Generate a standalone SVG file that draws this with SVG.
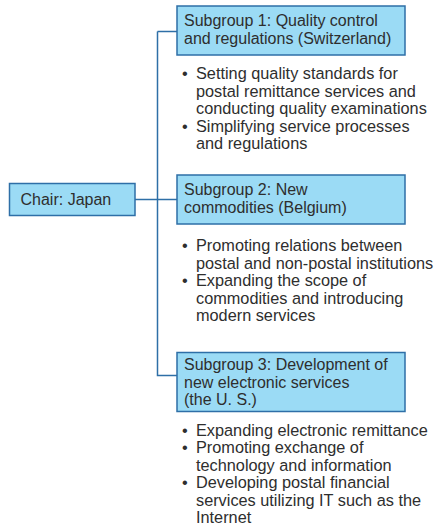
<svg xmlns="http://www.w3.org/2000/svg" width="434" height="529" viewBox="0 0 434 529">
  <style>
    .box { fill: #9bdbf5; stroke: #2e6fa7; stroke-width: 1.5; }
    .link { fill: none; stroke: #2e6fa7; stroke-width: 1.5; }
    text { font-family: "Liberation Sans", Arial, Helvetica, sans-serif; font-size: 16px; fill: #2e2e2e; }
    .items { font-size: 16.3px; }
  </style>
  <rect width="434" height="529" fill="#ffffff"/>

  <!-- connectors -->
  <g id="connectors">
    <path class="link" d="M157.5 31.5 H177 M157.5 31.5 V375.5 H177"/>
    <path class="link" d="M135 199.5 H177"/>
  </g>

  <!-- chair -->
  <g id="chair">
    <rect class="box" x="9.5" y="183.5" width="125.5" height="32"/>
    <text x="20.5" y="204.5">Chair: Japan</text>
  </g>

  <!-- subgroup 1 -->
  <g id="subgroup1">
    <rect class="box" x="177" y="6" width="228" height="49"/>
    <text x="184">
      <tspan x="184" y="26">Subgroup 1: Quality control</tspan>
      <tspan x="184" y="43.5">and regulations (Switzerland)</tspan>
    </text>
    <text class="items">
      <tspan x="182" y="79.3">•</tspan><tspan x="196" y="79.3">Setting quality standards for</tspan>
      <tspan x="196" y="96.8">postal remittance services and</tspan>
      <tspan x="196" y="114.3">conducting quality examinations</tspan>
      <tspan x="182" y="131.8">•</tspan><tspan x="196" y="131.8">Simplifying service processes</tspan>
      <tspan x="196" y="149.3">and regulations</tspan>
    </text>
  </g>

  <!-- subgroup 2 -->
  <g id="subgroup2">
    <rect class="box" x="177" y="175" width="228" height="49"/>
    <text>
      <tspan x="184" y="195">Subgroup 2: New</tspan>
      <tspan x="184" y="212.5">commodities (Belgium)</tspan>
    </text>
    <text class="items">
      <tspan x="182" y="251">•</tspan><tspan x="196" y="251">Promoting relations between</tspan>
      <tspan x="196" y="268.5">postal and non-postal institutions</tspan>
      <tspan x="182" y="286">•</tspan><tspan x="196" y="286">Expanding the scope of</tspan>
      <tspan x="196" y="303.5">commodities and introducing</tspan>
      <tspan x="196" y="321">modern services</tspan>
    </text>
  </g>

  <!-- subgroup 3 -->
  <g id="subgroup3">
    <rect class="box" x="177" y="352.5" width="228" height="59"/>
    <text>
      <tspan x="184" y="370">Subgroup 3: Development of</tspan>
      <tspan x="184" y="387.5">new electronic services</tspan>
      <tspan x="184" y="405">(the U. S.)</tspan>
    </text>
    <text class="items">
      <tspan x="182" y="435.7">•</tspan><tspan x="196" y="435.7">Expanding electronic remittance</tspan>
      <tspan x="182" y="453.2">•</tspan><tspan x="196" y="453.2">Promoting exchange of</tspan>
      <tspan x="196" y="470.7">technology and information</tspan>
      <tspan x="182" y="488.2">•</tspan><tspan x="196" y="488.2">Developing postal financial</tspan>
      <tspan x="196" y="505.7">services utilizing IT such as the</tspan>
      <tspan x="196" y="523.2">Internet</tspan>
    </text>
  </g>
</svg>
